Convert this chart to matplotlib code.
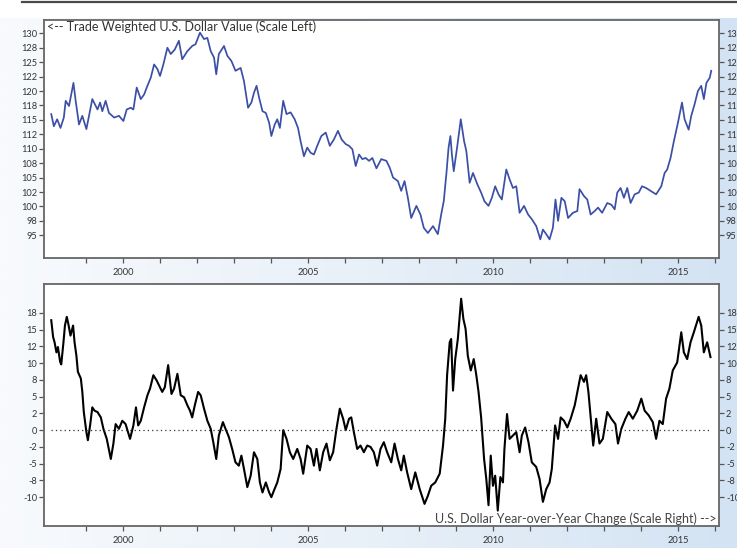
import numpy as np
import matplotlib
matplotlib.use('Agg')
import matplotlib.pyplot as plt
from matplotlib.colors import LinearSegmentedColormap
from matplotlib.patches import Rectangle
from matplotlib.lines import Line2D

plt.rcParams['font.family'] = ['Lato', 'DejaVu Sans']

# Trade weighted U.S. dollar index
usd_years = [1998.05, 1998.12, 1998.21, 1998.30, 1998.39, 1998.44, 1998.53, 1998.65, 1998.71, 1998.80,
             1998.89, 1999.00, 1999.07, 1999.16, 1999.30, 1999.37, 1999.43, 1999.52, 1999.61, 1999.75,
             1999.88, 2000.00, 2000.09, 2000.20, 2000.27, 2000.36, 2000.47, 2000.56, 2000.65, 2000.74,
             2000.83, 2000.92, 2000.99, 2001.08, 2001.19, 2001.28, 2001.39, 2001.50, 2001.59, 2001.73,
             2001.86, 2001.95, 2002.07, 2002.18, 2002.27, 2002.36, 2002.45, 2002.51, 2002.58, 2002.72,
             2002.81, 2002.92, 2003.03, 2003.17, 2003.26, 2003.37, 2003.46, 2003.53, 2003.60, 2003.67,
             2003.76, 2003.85, 2003.94, 2004.00, 2004.09, 2004.16, 2004.23, 2004.32, 2004.41, 2004.52,
             2004.63, 2004.72, 2004.79, 2004.88, 2004.97, 2005.06, 2005.15, 2005.24, 2005.35, 2005.47,
             2005.58, 2005.69, 2005.80, 2005.90, 2006.01, 2006.10, 2006.19, 2006.28, 2006.37, 2006.46,
             2006.55, 2006.64, 2006.73, 2006.84, 2006.97, 2007.11, 2007.20, 2007.29, 2007.42, 2007.51,
             2007.60, 2007.69, 2007.78, 2007.92, 2008.03, 2008.12, 2008.23, 2008.37, 2008.50, 2008.59,
             2008.66, 2008.73, 2008.79, 2008.84, 2008.88, 2008.93, 2009.02, 2009.12, 2009.21, 2009.27,
             2009.36, 2009.45, 2009.57, 2009.67, 2009.76, 2009.87, 2009.96, 2010.05, 2010.14, 2010.23,
             2010.35, 2010.44, 2010.53, 2010.62, 2010.71, 2010.83, 2010.94, 2011.04, 2011.16, 2011.27,
             2011.34, 2011.43, 2011.52, 2011.61, 2011.68, 2011.75, 2011.84, 2011.93, 2012.02, 2012.15,
             2012.27, 2012.33, 2012.45, 2012.54, 2012.63, 2012.74, 2012.83, 2012.94, 2013.08, 2013.19,
             2013.28, 2013.35, 2013.44, 2013.53, 2013.62, 2013.71, 2013.82, 2013.93, 2014.02, 2014.13,
             2014.25, 2014.40, 2014.54, 2014.63, 2014.70, 2014.79, 2014.88, 2014.99, 2015.10, 2015.17,
             2015.28, 2015.35, 2015.44, 2015.53, 2015.62, 2015.69, 2015.76, 2015.85, 2015.89]
usd_values = [116.0, 113.9, 115.1, 113.6, 115.4, 118.3, 117.4, 121.4, 118.3, 114.2,
              115.7, 113.4, 115.7, 118.6, 116.8, 118.0, 116.5, 118.3, 116.2, 115.4,
              115.7, 114.8, 116.8, 117.1, 116.8, 120.6, 118.6, 119.4, 120.9, 122.3,
              124.6, 123.8, 122.6, 124.6, 127.5, 126.4, 127.2, 128.7, 125.5, 126.9,
              127.8, 128.1, 130.1, 129.0, 129.2, 126.9, 125.8, 122.9, 126.4, 127.8,
              126.1, 125.2, 123.5, 124.0, 121.7, 117.1, 118.0, 119.7, 120.9, 118.8,
              116.5, 116.2, 114.5, 112.2, 114.2, 115.1, 113.6, 118.3, 116.0, 116.3,
              115.1, 113.6, 111.3, 108.7, 110.2, 109.3, 109.0, 110.5, 112.2, 112.8,
              110.5, 111.6, 113.1, 111.6, 110.8, 110.5, 109.9, 107.0, 109.0, 108.2,
              108.4, 107.9, 108.4, 106.6, 108.2, 107.9, 106.7, 105.0, 104.4, 102.7,
              104.4, 101.5, 98.0, 100.1, 98.6, 96.3, 95.4, 96.6, 95.2, 98.6,
              100.9, 105.6, 110.2, 112.2, 109.0, 106.1, 110.2, 115.1, 111.3, 109.6,
              104.1, 105.8, 103.8, 102.4, 100.9, 100.1, 101.5, 103.5, 102.1, 101.2,
              106.4, 104.7, 103.2, 103.5, 98.9, 100.1, 98.6, 97.8, 96.6, 94.3,
              96.0, 95.2, 94.3, 96.3, 101.2, 97.5, 101.5, 100.9, 98.0, 98.9,
              99.2, 103.0, 101.8, 101.2, 98.6, 99.2, 99.8, 98.9, 100.6, 100.3,
              99.5, 102.4, 103.2, 101.5, 103.2, 100.6, 102.1, 102.4, 103.5, 103.2,
              102.7, 102.1, 103.5, 105.8, 106.4, 108.4, 111.3, 114.5, 118.0, 115.1,
              113.3, 115.7, 117.7, 120.0, 120.9, 118.6, 121.4, 122.3, 123.5]

# Year-over-year change, percent
yoy_years = [1998.05, 1998.10, 1998.14, 1998.19, 1998.23, 1998.29, 1998.32, 1998.38, 1998.42, 1998.47,
             1998.51, 1998.57, 1998.64, 1998.68, 1998.73, 1998.77, 1998.85, 1998.89, 1998.93, 1999.00,
             1999.04, 1999.10, 1999.16, 1999.22, 1999.30, 1999.39, 1999.46, 1999.55, 1999.66, 1999.73,
             1999.79, 1999.88, 1999.97, 2000.06, 2000.18, 2000.27, 2000.34, 2000.40, 2000.47, 2000.56,
             2000.65, 2000.72, 2000.81, 2000.90, 2000.99, 2001.05, 2001.12, 2001.21, 2001.30, 2001.37,
             2001.46, 2001.55, 2001.64, 2001.73, 2001.80, 2001.86, 2001.93, 2002.02, 2002.09, 2002.18,
             2002.27, 2002.36, 2002.43, 2002.51, 2002.58, 2002.69, 2002.76, 2002.85, 2002.94, 2003.03,
             2003.12, 2003.19, 2003.26, 2003.35, 2003.44, 2003.53, 2003.62, 2003.69, 2003.76, 2003.85,
             2003.94, 2004.00, 2004.07, 2004.16, 2004.25, 2004.32, 2004.41, 2004.50, 2004.59, 2004.70,
             2004.79, 2004.86, 2004.97, 2005.06, 2005.15, 2005.22, 2005.31, 2005.40, 2005.49, 2005.58,
             2005.67, 2005.76, 2005.85, 2005.94, 2006.01, 2006.10, 2006.16, 2006.23, 2006.32, 2006.41,
             2006.50, 2006.59, 2006.68, 2006.77, 2006.86, 2006.95, 2007.04, 2007.13, 2007.24, 2007.33,
             2007.42, 2007.51, 2007.58, 2007.67, 2007.78, 2007.89, 2008.01, 2008.14, 2008.23, 2008.32,
             2008.43, 2008.55, 2008.64, 2008.70, 2008.75, 2008.82, 2008.86, 2008.91, 2008.97, 2009.04,
             2009.13, 2009.19, 2009.25, 2009.31, 2009.39, 2009.47, 2009.54, 2009.60, 2009.67, 2009.75,
             2009.81, 2009.87, 2009.93, 2009.99, 2010.05, 2010.12, 2010.19, 2010.26, 2010.30, 2010.37,
             2010.44, 2010.53, 2010.62, 2010.71, 2010.77, 2010.86, 2010.95, 2011.04, 2011.16, 2011.25,
             2011.34, 2011.43, 2011.52, 2011.58, 2011.67, 2011.75, 2011.82, 2011.91, 2012.00, 2012.09,
             2012.20, 2012.29, 2012.36, 2012.45, 2012.51, 2012.57, 2012.65, 2012.70, 2012.78, 2012.87,
             2012.96, 2013.08, 2013.19, 2013.30, 2013.37, 2013.46, 2013.57, 2013.66, 2013.77, 2013.89,
             2014.00, 2014.09, 2014.20, 2014.31, 2014.40, 2014.49, 2014.58, 2014.67, 2014.76, 2014.85,
             2014.97, 2015.08, 2015.15, 2015.24, 2015.33, 2015.42, 2015.55, 2015.62, 2015.69, 2015.78,
             2015.87]
yoy_values = [16.4, 13.9, 13.1, 11.6, 12.4, 10.2, 9.8, 13.1, 15.6, 16.9,
              15.9, 14.1, 15.6, 13.1, 11.1, 8.7, 7.7, 5.7, 2.7, -0.3,
              -1.5, 0.7, 3.4, 2.9, 2.7, 1.9, 0.2, -1.3, -4.3, -2.0,
              0.9, 0.2, 1.4, 0.9, -1.3, 0.7, 3.4, 0.7, 1.4, 3.4,
              5.2, 6.2, 8.2, 7.4, 6.4, 5.7, 6.4, 9.7, 5.4, 6.2,
              8.4, 5.2, 4.9, 3.7, 2.9, 1.9, 3.7, 5.7, 5.2, 3.2,
              1.4, 0.2, -1.8, -4.3, -0.8, 1.2, 0.2, -1.0, -2.8, -4.8,
              -5.3, -3.8, -5.8, -8.5, -6.8, -3.3, -4.3, -7.8, -9.3, -7.8,
              -9.3, -10.0, -9.0, -7.8, -5.8, 0.0, -1.3, -3.3, -4.3, -2.8,
              -4.3, -6.5, -2.3, -2.8, -5.3, -2.8, -6.0, -3.3, -2.0, -4.5,
              -3.3, 0.2, 3.2, 1.7, 0.0, 1.7, 1.9, -0.3, -2.8, -2.3,
              -3.3, -2.3, -2.5, -3.3, -5.3, -2.8, -1.8, -3.3, -4.8, -2.0,
              -4.3, -6.0, -3.8, -6.3, -8.8, -6.3, -8.8, -11.0, -9.8, -8.3,
              -7.8, -6.5, -2.3, 1.7, 8.2, 13.1, 13.6, 5.9, 10.6, 13.6,
              19.6, 16.6, 15.1, 11.1, 8.9, 10.6, 8.2, 5.7, 1.9, -4.3,
              -7.3, -11.2, -3.8, -8.3, -6.8, -12.0, -7.0, -7.8, -2.8, 2.4,
              -1.3, -0.8, -0.3, -3.3, -0.8, 0.4, -1.8, -4.8, -5.5, -7.3,
              -10.7, -8.8, -7.8, -5.8, 0.7, -1.3, 1.9, 1.4, 0.4, 1.7,
              3.7, 6.2, 8.2, 7.2, 8.2, 5.7, 0.7, -2.3, 1.7, -2.0,
              -1.3, 2.7, 1.7, 0.9, -2.0, 0.2, 1.7, 2.7, 1.7, 2.9,
              4.7, 2.9, 2.2, 1.2, -1.3, 1.4, 0.9, 4.7, 6.2, 8.9,
              10.1, 14.6, 11.6, 10.6, 13.1, 14.6, 16.9, 15.6, 11.6, 13.1,
              10.9]

year_ticks = list(range(1999, 2017))
year_labels = ['2000', '2005', '2010', '2015']
usd_ticks = [95, 97.5, 100, 102.5, 105, 107.5, 110, 112.5, 115, 117.5, 120, 122.5, 125, 127.5, 130]
usd_labels = ['95', '98', '100', '102', '105', '108', '110', '112', '115', '118', '120', '122', '125', '128', '130']
yoy_ticks = [-10, -7.5, -5, -2.5, 0, 2.5, 5, 7.5, 10, 12.5, 15, 17.5]
yoy_labels = ['-10', '-8', '-5', '-2', '0', '2', '5', '8', '10', '12', '15', '18']

W, H = 750, 548
fig = plt.figure(figsize=(W / 100, H / 100), dpi=100)
fig.patch.set_facecolor('white')

# gradient backdrop
bg = fig.add_axes([0, 0, 738 / W, (H - 18) / H], zorder=-10)
cmap = LinearSegmentedColormap.from_list('bg', ['#f8fafd', '#e8f0f8', '#d3e3f3'])
bg.imshow(np.linspace(0, 1, 256).reshape(1, -1), aspect='auto', cmap=cmap, extent=[0, 1, 0, 1])
bg.axis('off')

fig.add_artist(Line2D([22 / W, 1], [1 - 1.5 / H] * 2, color='#4a4a4a', lw=1.6))

ax1 = fig.add_axes([44 / W, 1 - 258 / H, 675 / W, 238 / H])
ax2 = fig.add_axes([44 / W, 1 - 526 / H, 675 / W, 242 / H])

ax1.plot(usd_years, usd_values, color='#3b4fa6', lw=1.25)
ax2.plot(yoy_years, yoy_values, color='black', lw=1.5)
ax2.hlines(0, yoy_years[0], yoy_years[-1], colors='#333333', linestyles=(0, (1, 2.5)), lw=0.9)

ax1.set_ylim(91.07, 132.3)
ax2.set_ylim(-14.3, 21.8)
ax1.set_yticks(usd_ticks, usd_labels)
ax2.set_yticks(yoy_ticks, yoy_labels)

for ax in (ax1, ax2):
    ax.set_facecolor('white')
    ax.set_xlim(1997.854, 2016.10)
    ax.set_xticks(year_ticks)
    ax.set_xticklabels([str(y) if str(y) in year_labels else '' for y in year_ticks])
    for s in ax.spines.values():
        s.set_color('#666666')
        s.set_linewidth(1.3)
    ax.tick_params(axis='both', direction='out', length=3.5, width=0.9, color='#555555',
                   labelsize=6.7, labelcolor='#333333', pad=1.5)
    ax.tick_params(axis='y', left=True, right=True, labelleft=True, labelright=True)
    ax.tick_params(axis='x', pad=4)

ax1.text(0.004, 0.997, '<-- Trade Weighted U.S. Dollar Value (Scale Left)', transform=ax1.transAxes,
         ha='left', va='top', fontsize=9, color='#333333')
ax2.text(0.996, 0.004, 'U.S. Dollar Year-over-Year Change (Scale Right) -->', transform=ax2.transAxes,
         ha='right', va='bottom', fontsize=9, color='#444444')

# white margin on the right that cuts the right-hand labels
fig.add_artist(Rectangle((737 / W, 0), 1, 1, transform=fig.transFigure,
                         facecolor='white', edgecolor='none', zorder=10))

fig.savefig('out.png', dpi=100)
